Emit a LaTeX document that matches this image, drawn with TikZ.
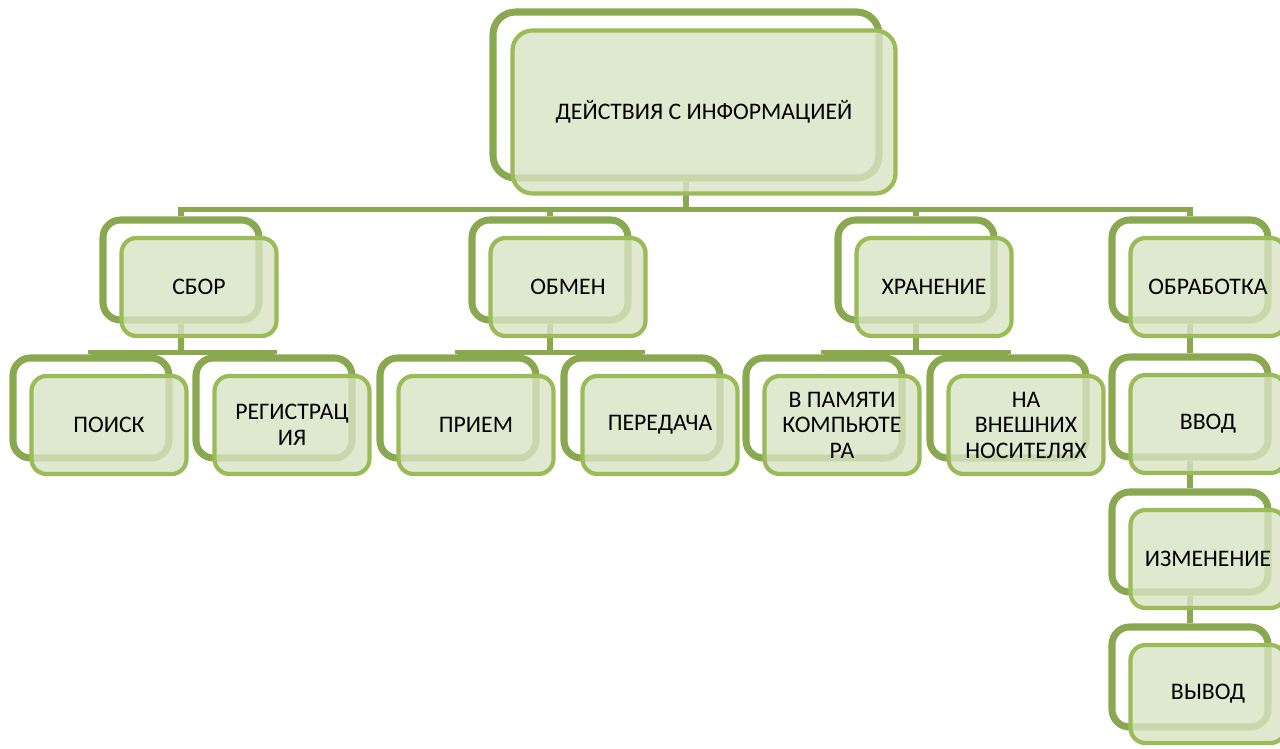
\documentclass[tikz,border=0pt]{standalone}
\usepackage{fontspec}
\setmainfont{Carlito}
\usepackage{tikz}
\usetikzlibrary{positioning,backgrounds}
\definecolor{frameGreen}{RGB}{138,168,80}
\definecolor{edgeGreen}{RGB}{155,187,89}
\definecolor{fillGreen}{RGB}{216,228,196}

\begin{document}
\begin{tikzpicture}[
    backbox/.style={draw=frameGreen, line width=4pt, fill=white, rounded corners=0.35cm,
      minimum width=3.12cm, minimum height=2.0cm, inner sep=0pt},
    frontbox/.style={draw=edgeGreen, line width=2.4pt, fill=fillGreen, fill opacity=0.8,
      text opacity=1, rounded corners=0.3cm, minimum width=3.1cm, minimum height=1.96cm,
      inner sep=0pt, align=center, font=\fontsize{13.5}{14.5}\selectfont},
    link/.style={draw=frameGreen, line width=3.2pt}
  ]
    \useasboundingbox (0,0) rectangle (25.6,-14.98);

    % root
    \node[backbox, minimum width=7.72cm, minimum height=3.32cm, rounded corners=0.45cm] (topB) at (13.72,-1.90) {};
    \node[frontbox, minimum width=7.66cm, minimum height=3.26cm, rounded corners=0.4cm] (top) at ([shift={(0.36,-0.34)}]topB) {ДЕЙСТВИЯ С ИНФОРМАЦИЕЙ};

    % second level
    \node[backbox] (sborB) at (3.62,-5.40) {};
    \node[frontbox] (sbor) at ([shift={(0.36,-0.34)}]sborB) {СБОР};
    \node[backbox] (obmenB) at (11.00,-5.40) {};
    \node[frontbox] (obmen) at ([shift={(0.36,-0.34)}]obmenB) {ОБМЕН};
    \node[backbox] (hranB) at (18.32,-5.40) {};
    \node[frontbox] (hran) at ([shift={(0.36,-0.34)}]hranB) {ХРАНЕНИЕ};
    \node[backbox] (obrB) at (23.80,-5.40) {};
    \node[frontbox] (obr) at ([shift={(0.36,-0.34)}]obrB) {ОБРАБОТКА};

    % third level
    \node[backbox] (poiskB) at (1.82,-8.16) {};
    \node[frontbox] (poisk) at ([shift={(0.36,-0.34)}]poiskB) {ПОИСК};
    \node[backbox] (regB) at (5.48,-8.16) {};
    \node[frontbox] (reg) at ([shift={(0.36,-0.34)}]regB) {РЕГИСТРАЦ\\ИЯ};
    \node[backbox] (priemB) at (9.16,-8.16) {};
    \node[frontbox] (priem) at ([shift={(0.36,-0.34)}]priemB) {ПРИЕМ};
    \node[backbox] (peredB) at (12.84,-8.16) {};
    \node[frontbox] (pered) at ([shift={(0.36,-0.34)}]peredB) {ПЕРЕДАЧА};
    \node[backbox] (pamB) at (16.48,-8.16) {};
    \node[frontbox] (pam) at ([shift={(0.36,-0.34)}]pamB) {В ПАМЯТИ\\КОМПЬЮТЕ\\РА};
    \node[backbox] (vneshB) at (20.16,-8.16) {};
    \node[frontbox] (vnesh) at ([shift={(0.36,-0.34)}]vneshB) {НА\\ВНЕШНИХ\\НОСИТЕЛЯХ};

    % processing column
    \node[backbox] (vvodB) at (23.80,-8.14) {};
    \node[frontbox] (vvod) at ([shift={(0.36,-0.34)}]vvodB) {ВВОД};
    \node[backbox] (izmB) at (23.80,-10.84) {};
    \node[frontbox] (izm) at ([shift={(0.36,-0.34)}]izmB) {ИЗМЕНЕНИЕ};
    \node[backbox] (vyvodB) at (23.80,-13.54) {};
    \node[frontbox] (vyvod) at ([shift={(0.36,-0.34)}]vyvodB) {ВЫВОД};

    \begin{scope}[on background layer]
      \foreach \c in {sborB,obmenB,hranB,obrB}
        \draw[link] (topB.south) -- ++(0,-0.56) -| (\c.north);
      \foreach \p/\c in {sborB/poiskB,sborB/regB,obmenB/priemB,obmenB/peredB,hranB/pamB,hranB/vneshB}
        \draw[link] (\p.south) -- ++(0,-0.58) -| (\c.north);
      \draw[link] (obrB.south) -- (vvodB.north);
      \draw[link] (vvodB.south) -- (izmB.north);
      \draw[link] (izmB.south) -- (vyvodB.north);
    \end{scope}
  \end{tikzpicture}
\end{document}
